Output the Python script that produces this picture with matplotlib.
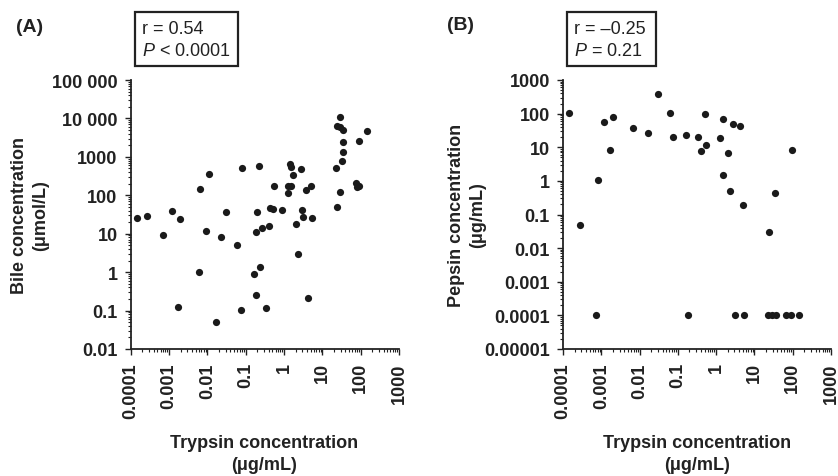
import numpy as np
import matplotlib
matplotlib.use('Agg')
import matplotlib.pyplot as plt
from matplotlib.ticker import LogLocator, NullFormatter, FixedLocator, FixedFormatter
from matplotlib.patches import Rectangle

plt.rcParams['font.family'] = ['Liberation Sans', 'DejaVu Sans']
plt.rcParams['mathtext.fontset'] = 'custom'
plt.rcParams['mathtext.rm'] = 'Liberation Sans'
plt.rcParams['mathtext.it'] = 'Liberation Sans:italic'

# ---- panel A : trypsin vs bile ----
trypsin_a = [1.44e-4, 2.7e-4, 7.1e-4, 1.22e-3, 1.98e-3, 1.68e-3, 6.6e-3, 0.0108, 9.1e-3, 6.1e-3,
             0.0228, 0.0307, 0.0165, 0.0607, 0.0787, 0.074, 0.218, 0.201, 0.182, 0.272,
             0.406, 0.43, 0.506, 0.537, 0.887, 0.232, 0.162, 0.186, 0.346, 1.30,
             1.27, 1.52, 1.46, 1.49, 1.68, 2.83, 2.06, 2.89, 3.19, 3.75,
             5.06, 5.37, 2.32, 4.23, 24.6, 22.7, 28.9, 31.9, 34.6, 35.3,
             28.9, 23.7, 28.9, 35.3, 92.3, 149, 74, 92, 79]
bile = [25, 29, 9.3, 38, 23.7, 0.124, 149, 358, 11.7, 1.0,
        8.3, 37.5, 0.051, 5.0, 503, 0.103, 567, 37.5, 11, 13.8,
        15.5, 46.5, 43.7, 171, 40.6, 1.36, 0.875, 0.259, 0.114, 117,
        171, 175, 652, 556, 344, 493, 18.3, 40.6, 26.7, 135,
        178, 26.2, 3.0, 0.207, 51, 513, 124, 796, 1340, 2390,
        10700, 6490, 6110, 5000, 2640, 4810, 209, 178, 168]

# ---- panel B : trypsin vs pepsin ----
trypsin_b = [1.46e-4, 2.72e-4, 7.1e-4, 8.36e-4, 1.2e-3, 1.65e-3, 1.98e-3, 6.56e-3, 0.0165, 0.0307,
             0.0607, 0.0755, 0.162, 0.186, 0.346, 0.406, 0.506, 0.537, 1.27, 1.49,
             1.52, 2.06, 2.32, 2.77, 4.23, 3.19, 5.37, 5.06, 24.6, 35.3,
             96, 22.3, 28.9, 36.7, 67, 90.5, 149]
pepsin = [106, 0.048, 1e-4, 1.08, 55.7, 8.5, 78.7, 37.8, 26.2, 391,
          103.5, 19.9, 23.3, 1e-4, 20.8, 7.8, 98.9, 11.5, 18.6, 68.5,
          1.53, 6.9, 0.486, 47.5, 43.4, 1e-4, 1e-4, 0.186, 0.031, 0.443,
          8.1, 1e-4, 1e-4, 1e-4, 1e-4, 1e-4, 1e-4]

x_ticks = [1e-4, 1e-3, 1e-2, 1e-1, 1, 10, 100, 1000]
x_labels = ['0.0001', '0.001', '0.01', '0.1', '1', '10', '100', '1000']
ya_ticks = [1e-2, 1e-1, 1, 10, 100, 1000, 1e4, 1e5]
ya_labels = ['0.01', '0.1', '1', '10', '100', '1000', '10 000', '100 000']
yb_ticks = [1e-5, 1e-4, 1e-3, 1e-2, 1e-1, 1, 10, 100, 1000]
yb_labels = ['0.00001', '0.0001', '0.001', '0.01', '0.1', '1', '10', '100', '1000']

W, H = 838, 477
fig = plt.figure(figsize=(W / 100, H / 100), dpi=100)

def fx(px):
    return px / W

def fy(py):
    return 1 - py / H

axA = fig.add_axes([fx(130.7), fy(350), fx(399 - 130.7), (350 - 81) / H])
axB = fig.add_axes([fx(563), fy(350), fx(831 - 563), (350 - 81) / H])

def style(ax, xs, ys, yticks, ylabels):
    ax.scatter(xs, ys, s=27, color='#1a1a1a', zorder=3, linewidths=0)
    ax.set_xscale('log')
    ax.set_yscale('log')
    ax.set_xlim(1e-4, 1000)
    ax.set_ylim(yticks[0], yticks[-1])
    for s in ['top', 'right']:
        ax.spines[s].set_visible(False)
    for s in ['left', 'bottom']:
        ax.spines[s].set_linewidth(1.3)
        ax.spines[s].set_color('#222222')
    ax.xaxis.set_major_locator(FixedLocator(x_ticks))
    ax.xaxis.set_major_formatter(FixedFormatter(x_labels))
    ax.yaxis.set_major_locator(FixedLocator(yticks))
    ax.yaxis.set_major_formatter(FixedFormatter(ylabels))
    ax.xaxis.set_minor_locator(LogLocator(base=10, subs=np.arange(2, 10), numticks=20))
    ax.yaxis.set_minor_locator(LogLocator(base=10, subs=np.arange(2, 10), numticks=20))
    ax.xaxis.set_minor_formatter(NullFormatter())
    ax.yaxis.set_minor_formatter(NullFormatter())
    ax.tick_params(which='major', length=4, width=1, color='#222222', pad=5.5)
    ax.tick_params(which='minor', length=2.2, width=0.8, color='#222222')
    for lab in ax.get_xticklabels():
        lab.set_rotation(90)
        lab.set_fontsize(13)
        lab.set_fontweight('bold')
        lab.set_color('#222222')
    for lab in ax.get_yticklabels():
        lab.set_fontsize(13)
        lab.set_fontweight('bold')
        lab.set_color('#222222')

style(axA, trypsin_a, bile, ya_ticks, ya_labels)
style(axB, trypsin_b, pepsin, yb_ticks, yb_labels)

txt = dict(color='#222222', fontsize=13)

# panel letters
fig.text(fx(16), fy(27), '(A)', fontweight='bold', ha='left', va='center', fontsize=14, color='#222222')
fig.text(fx(447), fy(25), '(B)', fontweight='bold', ha='left', va='center', fontsize=14, color='#222222')

# axis labels
fig.text(fx(30), fy(215.5), 'Bile concentration\n(\u03bcmol/L)', rotation=90, ha='center', va='center',
         fontweight='bold', linespacing=1.25, **txt)
fig.text(fx(467), fy(215.5), 'Pepsin concentration\n(\u03bcg/mL)', rotation=90, ha='center', va='center',
         fontweight='bold', linespacing=1.25, **txt)
fig.text(fx(264.5), fy(454.5), 'Trypsin concentration\n(\u03bcg/mL)', ha='center', va='center',
         fontweight='bold', linespacing=1.35, **txt)
fig.text(fx(697), fy(454.5), 'Trypsin concentration\n(\u03bcg/mL)', ha='center', va='center',
         fontweight='bold', linespacing=1.35, **txt)

# stat boxes
for (x0, x1, tx, l1, l2) in [(135, 238, 142, 'r = 0.54', '$P$ < 0.0001'),
                             (567, 656, 574, 'r = \u20130.25', '$P$ = 0.21')]:
    fig.patches.append(Rectangle((fx(x0), fy(67)), fx(x1 - x0), (67 - 13) / H,
                                 transform=fig.transFigure, fill=False,
                                 edgecolor='#222222', linewidth=1.6))
    fig.text(fx(tx), fy(29), l1, ha='left', va='center', **txt)
    fig.text(fx(tx), fy(52), l2, ha='left', va='center', **txt)

fig.savefig('out.png', dpi=100)
